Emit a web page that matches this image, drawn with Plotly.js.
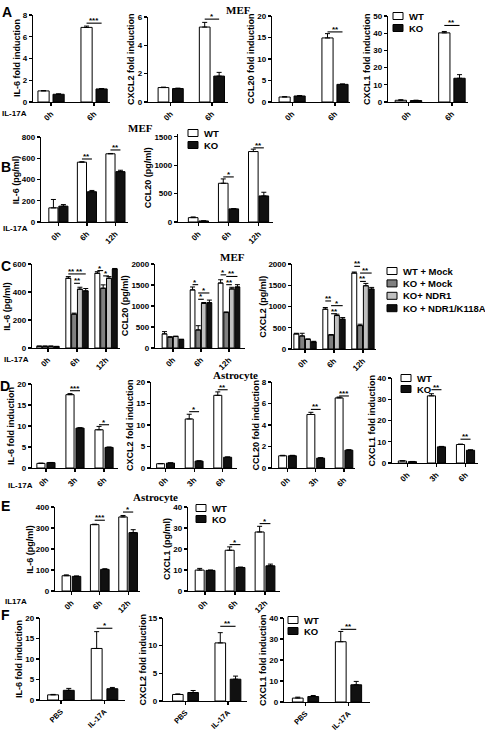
<!DOCTYPE html>
<html><head><meta charset="utf-8">
<script src="https://cdn.plot.ly/plotly-3.0.1.min.js"></script>
<style>html,body{margin:0;padding:0;background:#fff}#chart{width:485px;height:732px}</style>
</head><body><div id="chart"></div>
<script>
// ---------- DATA ----------
const catsA = ['0h','6h'];
const catsB = ['0h','6h','12h'];
const catsD = ['0h','3h','6h'];
const catsF = ['PBS','IL-17A'];
const namesWK = ['WT','KO'];
const namesC = ['WT + Mock','KO + Mock','KO+ NDR1','KO + NDR1/K118A'];

// Panel A (MEF, fold induction)
const A_IL6_WT=[1.02,6.86], A_IL6_WT_E=[0.03,0.12], A_IL6_KO=[0.71,1.2], A_IL6_KO_E=[0.04,0.04];
const A_CXCL2_WT=[1.02,5.29], A_CXCL2_WT_E=[0.03,0.33], A_CXCL2_KO=[0.95,1.83], A_CXCL2_KO_E=[0.03,0.26];
const A_CCL20_WT=[1.16,14.9], A_CCL20_WT_E=[0.08,1.0], A_CCL20_KO=[1.4,4.1], A_CCL20_KO_E=[0.08,0.1];
const A_CXCL1_WT=[1.0,40.2], A_CXCL1_WT_E=[0.3,0.8], A_CXCL1_KO=[0.85,13.8], A_CXCL1_KO_E=[0.2,2.1];
// Panel B (MEF, pg/ml)
const B_IL6_WT=[133,563,642], B_IL6_WT_E=[79,4,3], B_IL6_KO=[149,285,474], B_IL6_KO_E=[15,12,13];
const B_CCL20_WT=[77,682,1241], B_CCL20_WT_E=[12,77,42], B_CCL20_KO=[18,231,459], B_CCL20_KO_E=[3,5,65];
// Panel C (MEF, rescue, pg/ml) : [WT+Mock, KO+Mock, KO+NDR1, KO+NDR1/K118A] per time
const C_IL6 = [[12,498,534],[12,242,427],[12,420,498],[10,408,564]];
const C_IL6_E = [[2,12,11],[2,7,24],[2,14,12],[2,17,4]];
const C_CCL20 = [[336,1383,1547],[258,430,844],[273,1063,1406],[203,1078,1453]];
const C_CCL20_E = [[54,70,78],[10,101,15],[10,20,39],[6,63,55]];
const C_CXCL2 = [[354,937,1787],[307,331,551],[228,787,1488],[165,701,1409]];
const C_CXCL2_E = [[16,39,24],[63,8,32],[8,32,55],[16,39,40]];
// Panel D (Astrocyte, fold induction)
const D_IL6_WT=[1.1,17.46,9.1], D_IL6_WT_E=[0.05,0.25,0.8], D_IL6_KO=[1.27,9.5,4.9], D_IL6_KO_E=[0.05,0.1,0.1];
const D_CXCL2_WT=[1.0,11.4,16.9], D_CXCL2_WT_E=[0.05,1.1,0.8], D_CXCL2_KO=[1.15,1.6,2.5], D_CXCL2_KO_E=[0.05,0.08,0.08];
const D_CCL20_WT=[1.14,4.98,6.52], D_CCL20_WT_E=[0.04,0.2,0.08], D_CCL20_KO=[1.14,0.92,1.66], D_CCL20_KO_E=[0.04,0.04,0.04];
const D_CXCL1_WT=[0.95,31.6,8.7], D_CXCL1_WT_E=[0.1,1.0,0.2], D_CXCL1_KO=[0.63,7.6,6.0], D_CXCL1_KO_E=[0.1,0.2,0.2];
// Panel E (Astrocyte, pg/ml)
const E_IL6_WT=[72.7,316,352.6], E_IL6_WT_E=[4,2,7], E_IL6_KO=[69.6,103,278], E_IL6_KO_E=[2,3,14];
const E_CXCL1_WT=[9.96,19.4,28.1], E_CXCL1_WT_E=[0.8,1.6,2.7], E_CXCL1_KO=[9.8,11.2,12.0], E_CXCL1_KO_E=[0.2,0.2,0.8];
// Panel F (in vivo, fold induction)
const F_IL6_WT=[1.26,12.57], F_IL6_WT_E=[0.1,4.1], F_IL6_KO=[2.36,2.75], F_IL6_KO_E=[0.47,0.31];
const F_CXCL2_WT=[1.18,10.5], F_CXCL2_WT_E=[0.1,1.85], F_CXCL2_KO=[1.53,3.94], F_CXCL2_KO_E=[0.37,0.56];
const F_CXCL1_WT=[1.86,28.7], F_CXCL1_WT_E=[0.45,4.9], F_CXCL1_KO=[2.6,8.2], F_CXCL1_KO_E=[0.5,1.6];

// significance: [group, barA, barB, level, label]
const A_IL6_SIG=[[1,0,1,7.25,'***']], A_CXCL2_SIG=[[1,0,1,5.85,'*']], A_CCL20_SIG=[[1,0,1,16.3,'**']], A_CXCL1_SIG=[[1,0,1,44.5,'**']];
const B_IL6_SIG=[[1,0,1,593,'**'],[2,0,1,678,'**']], B_CCL20_SIG=[[1,0,1,794,'*'],[2,0,1,1306,'**']];
const C_IL6_SIG=[[1,0,1,529,'**'],[1,1,3,529,'**'],[1,1,2,462,'**'],[2,0,1,553,'*'],[2,1,3,605,'*'],[2,1,2,515,'*']];
const C_CCL20_SIG=[[1,0,1,1508,'*'],[1,1,3,1310,'*'],[1,1,2,1160,'*'],[2,0,1,1742,'*'],[2,1,3,1703,'**'],[2,1,2,1508,'**']];
const C_CXCL2_SIG=[[1,0,1,1130,'**'],[1,1,3,1020,'*'],[1,1,2,830,'**'],[2,0,1,1945,'**'],[2,1,3,1787,'**'],[2,1,2,1590,'**']];
const D_IL6_SIG=[[1,0,1,18.4,'***'],[2,0,1,10.3,'*']], D_CXCL2_SIG=[[1,0,1,13.1,'*'],[2,0,1,18.2,'**']];
const D_CCL20_SIG=[[1,0,1,5.45,'**'],[2,0,1,6.7,'***']], D_CXCL1_SIG=[[1,0,1,34.5,'**'],[2,0,1,11.2,'**']];
const E_IL6_SIG=[[1,0,1,337,'***'],[2,0,1,376,'*']], E_CXCL1_SIG=[[1,0,1,22.1,'*'],[2,0,1,32.1,'*']];
const F_IL6_SIG=[[1,0,1,17.5,'*']], F_CXCL2_SIG=[[1,0,1,13.5,'**']], F_CXCL1_SIG=[[1,0,1,34.6,'**']];

// ---------- STYLE / LAYOUT ----------
const W=485, H=732;
const FONT='"Liberation Sans", Arial, sans-serif';
const SERIF='"Liberation Serif", "Times New Roman", serif';
const colWK=['#ffffff','#111111'];
const colC=['#ffffff','#808080','#c0c0c0','#111111'];
function wk(wt,wte,ko,koe){return [{name:namesWK[0],y:wt,e:wte,color:colWK[0]},{name:namesWK[1],y:ko,e:koe,color:colWK[1]}];}
function cs(v,e){return v.map((arr,i)=>({name:namesC[i],y:arr,e:e[i],color:colC[i]}));}

const rowA={w:0.26,pitch:0.35,tf:8}, rowB={w:0.32,pitch:0.35,tf:8}, rowC={w:0.17,pitch:0.2,tf:8}, rowD={w:0.28,pitch:0.345,tf:8}, rowE={w:0.3,pitch:0.36,tf:8}, rowF={w:0.25,pitch:0.36,tf:7.5};
const panels=[
 {cats:catsA,s:wk(A_IL6_WT,A_IL6_WT_E,A_IL6_KO,A_IL6_KO_E),t:'IL-6 fold induction',ymax:8,dt:2,px:[33,110,102,15],xr:[-0.42,1.37],r:rowA,sig:A_IL6_SIG},
 {cats:catsA,s:wk(A_CXCL2_WT,A_CXCL2_WT_E,A_CXCL2_KO,A_CXCL2_KO_E),t:'CXCL2 fold induction',ymax:6,dt:2,px:[148,228,102,17],xr:[-0.55,1.39],r:rowA,sig:A_CXCL2_SIG},
 {cats:catsA,s:wk(A_CCL20_WT,A_CCL20_WT_E,A_CCL20_KO,A_CCL20_KO_E),t:'CCL20 fold induction',ymax:20,dt:5,px:[272,350,102,16],xr:[-0.47,1.35],r:rowA,sig:A_CCL20_SIG},
 {cats:catsA,s:wk(A_CXCL1_WT,A_CXCL1_WT_E,A_CXCL1_KO,A_CXCL1_KO_E),t:'CXCL1 fold induction',ymax:50,dt:10,px:[388,468,102,16],xr:[-0.47,1.37],r:rowA,sig:A_CXCL1_SIG},
 {cats:catsB,s:wk(B_IL6_WT,B_IL6_WT_E,B_IL6_KO,B_IL6_KO_E),t:'IL-6 (pg/ml)',ymax:800,dt:200,px:[41,128,222,137],xr:[-0.61,2.44],r:rowB,sig:B_IL6_SIG},
 {cats:catsB,s:wk(B_CCL20_WT,B_CCL20_WT_E,B_CCL20_KO,B_CCL20_KO_E),t:'CCL20 (pg/ml)',ymax:1550,dt:500,px:[178,273,222,134],xr:[-0.68,2.48],r:rowB,sig:B_CCL20_SIG},
 {cats:catsB,s:cs(C_IL6,C_IL6_E),t:'IL-6 (pg/ml)',ymax:600,dt:200,px:[32,120,348,264],xr:[-0.55,2.48],r:rowC,sig:C_IL6_SIG},
 {cats:catsB,s:cs(C_CCL20,C_CCL20_E),t:'CCL20 (pg/ml)',ymax:2000,dt:500,px:[155,245,348,264],xr:[-0.64,2.57],r:rowC,sig:C_CCL20_SIG},
 {cats:catsB,s:cs(C_CXCL2,C_CXCL2_E),t:'CXCL2 (pg/ml)',ymax:2000,dt:500,px:[292,376,349,264],xr:[-0.45,2.45],r:rowC,sig:C_CXCL2_SIG},
 {cats:catsD,s:wk(D_IL6_WT,D_IL6_WT_E,D_IL6_KO,D_IL6_KO_E),t:'IL-6 fold induction',ymax:20,dt:5,px:[32,118,468,384],xr:[-0.48,2.48],r:rowD,sig:D_IL6_SIG},
 {cats:catsD,s:wk(D_CXCL2_WT,D_CXCL2_WT_E,D_CXCL2_KO,D_CXCL2_KO_E),t:'CXCL2 fold induction',ymax:20,dt:5,px:[151,237,468,382],xr:[-0.51,2.5],r:rowD,sig:D_CXCL2_SIG},
 {cats:catsD,s:wk(D_CCL20_WT,D_CCL20_WT_E,D_CCL20_KO,D_CCL20_KO_E),t:'CCL20 fold induction',ymax:8,dt:2,px:[272,355,468,382],xr:[-0.55,2.39],r:rowD,sig:D_CCL20_SIG},
 {cats:catsD,s:wk(D_CXCL1_WT,D_CXCL1_WT_E,D_CXCL1_KO,D_CXCL1_KO_E),t:'CXCL1 fold induction',ymax:40,dt:10,px:[392,478,463,378],xr:[-0.53,2.43],r:rowD,sig:D_CXCL1_SIG},
 {cats:catsB,s:wk(E_IL6_WT,E_IL6_WT_E,E_IL6_KO,E_IL6_KO_E),t:'IL-6 (pg/ml)',ymax:400,dt:100,px:[55,140,591,507],xr:[-0.58,2.42],r:rowE,sig:E_IL6_SIG},
 {cats:catsB,s:wk(E_CXCL1_WT,E_CXCL1_WT_E,E_CXCL1_KO,E_CXCL1_KO_E),t:'CXCL1 (pg/ml)',ymax:40,dt:10,px:[188,280,591,507],xr:[-0.57,2.5],r:rowE,sig:E_CXCL1_SIG},
 {cats:catsF,s:wk(F_IL6_WT,F_IL6_WT_E,F_IL6_KO,F_IL6_KO_E),t:'IL-6 fold induction',ymax:20,dt:5,px:[40,125,700,618],xr:[-0.48,1.47],r:rowF,sig:F_IL6_SIG},
 {cats:catsF,s:wk(F_CXCL2_WT,F_CXCL2_WT_E,F_CXCL2_KO,F_CXCL2_KO_E),t:'CXCL2 fold induction',ymax:15,dt:5,px:[163,247,701,618],xr:[-0.53,1.45],r:rowF,sig:F_CXCL2_SIG},
 {cats:catsF,s:wk(F_CXCL1_WT,F_CXCL1_WT_E,F_CXCL1_KO,F_CXCL1_KO_E),t:'CXCL1 fold induction',ymax:40,dt:10,px:[284,370,702,618],xr:[-0.5,1.5],r:rowF,sig:F_CXCL1_SIG}
];

const traces=[], shapes=[], annotations=[];
const layout={width:W,height:H,margin:{l:0,r:0,t:0,b:0},paper_bgcolor:'#fff',plot_bgcolor:'rgba(0,0,0,0)',
  barmode:'overlay',showlegend:false,font:{family:FONT,color:'#000'}};

function pa(x,y,text,size,opts){annotations.push(Object.assign({xref:'paper',yref:'paper',x:x/W,y:1-y/H,text:text,showarrow:false,
  xanchor:'center',yanchor:'middle',font:{family:FONT,size:size,color:'#000',weight:'bold'}},opts||{}));}

panels.forEach((p,k)=>{
  const n=k+1, sfx=(n===1?'':String(n));
  const xa='x'+sfx, ya='y'+sfx;
  const [x0,x1,y0,yt]=p.px;
  const m=p.s.length, w=p.r.w, pitch=p.r.pitch;
  layout['xaxis'+sfx]={domain:[x0/W,x1/W],range:p.xr,anchor:ya,tickmode:'array',
    tickvals:p.cats.map((c,i)=>i),ticktext:p.cats,tickangle:-45,showline:true,linewidth:1.2,linecolor:'#000',
    ticks:'outside',ticklen:3,tickwidth:1.2,tickcolor:'#000',showgrid:false,zeroline:false,automargin:false,
    tickfont:{family:FONT,size:p.r.tf,weight:'bold',color:'#000'},fixedrange:true};
  layout['yaxis'+sfx]={domain:[1-y0/H,1-yt/H],range:[0,p.ymax],anchor:xa,tick0:0,dtick:p.dt,
    showline:true,linewidth:1.2,linecolor:'#000',ticks:'outside',ticklen:3,tickwidth:1.2,tickcolor:'#000',
    showgrid:false,zeroline:false,automargin:false,tickfont:{family:FONT,size:8,weight:'bold',color:'#000'},fixedrange:true};
  // y-axis title as rotated text next to the tick labels
  const topTick=Math.floor(p.ymax/p.dt)*p.dt;
  const lw=String(topTick).length*4.45;
  pa(x0-3-2-lw-2.5-4.5,(y0+yt)/2,p.t,9,{textangle:-90});
  p.s.forEach((s,i)=>{
    const c=(i-(m-1)/2)*pitch;
    traces.push({type:'bar',name:s.name,x:p.cats.map((_,j)=>j),y:s.y,width:w,offset:c-w/2,xaxis:xa,yaxis:ya,
      marker:{color:s.color,line:{color:'#000',width:1}},
      error_y:{type:'data',array:s.e,arrayminus:s.e.map(()=>0),symmetric:false,color:'#000',thickness:1,width:2.5},
      showlegend:false,hoverinfo:'skip'});
  });
  p.sig.forEach(([g,i,j,yv,lab])=>{
    const xa0=g+(i-(m-1)/2)*pitch, xb0=g+(j-(m-1)/2)*pitch;
    shapes.push({type:'line',xref:xa,yref:ya,x0:xa0,x1:xb0,y0:yv,y1:yv,line:{color:'#000',width:1.1}});
    annotations.push({xref:xa,yref:ya,x:(xa0+xb0)/2,y:yv,text:lab,showarrow:false,yanchor:'bottom',yshift:-4,
      font:{family:FONT,size:8,color:'#000',weight:'bold'}});
  });
});

// paper-level text
[['A',7,12],['B',6,167],['C',6,266],['D',5,386],['E',5,506],['F',5,615]].forEach(([t,x,y])=>pa(x,y,t,14));
[['IL-17A',14,113],['IL-17A',15,228],['IL-17A',16,359],['IL-17A',20,486],['IL17A',16,601]].forEach(([t,x,y])=>pa(x,y,t,8));
[['MEF',238,10],['MEF',140,128],['MEF',232,257],['Astrocyte',235,375],['Astrocyte',155,497]].forEach(([t,x,y])=>
  pa(x,y,t,11,{font:{family:SERIF,size:11,color:'#000',weight:'bold'}}));

// legends
const legends=[
 {x:393,y:16,dy:12,names:namesWK,colors:colWK,fs:9.5},
 {x:188,y:133,dy:12,names:namesWK,colors:colWK,fs:9.5},
 {x:387,y:271,dy:12.4,names:namesC,colors:colC,fs:9.5},
 {x:401,y:378,dy:11,names:namesWK,colors:colWK,fs:9.5},
 {x:196,y:508,dy:11,names:namesWK,colors:colWK,fs:9.5},
 {x:288,y:620,dy:11,names:namesWK,colors:colWK,fs:9.5}
];
legends.forEach(L=>{
  L.names.forEach((nm,i)=>{
    const yc=L.y+i*L.dy;
    shapes.push({type:'rect',xref:'paper',yref:'paper',x0:L.x/W,x1:(L.x+10)/W,y0:1-(yc-3.5)/H,y1:1-(yc+3.5)/H,
      fillcolor:L.colors[i],line:{color:'#000',width:1}});
    pa(L.x+14,yc,nm,L.fs,{xanchor:'left'});
  });
});
layout.shapes=shapes; layout.annotations=annotations;
Plotly.newPlot('chart',traces,layout,{staticPlot:true,displayModeBar:false});
</script></body></html>
